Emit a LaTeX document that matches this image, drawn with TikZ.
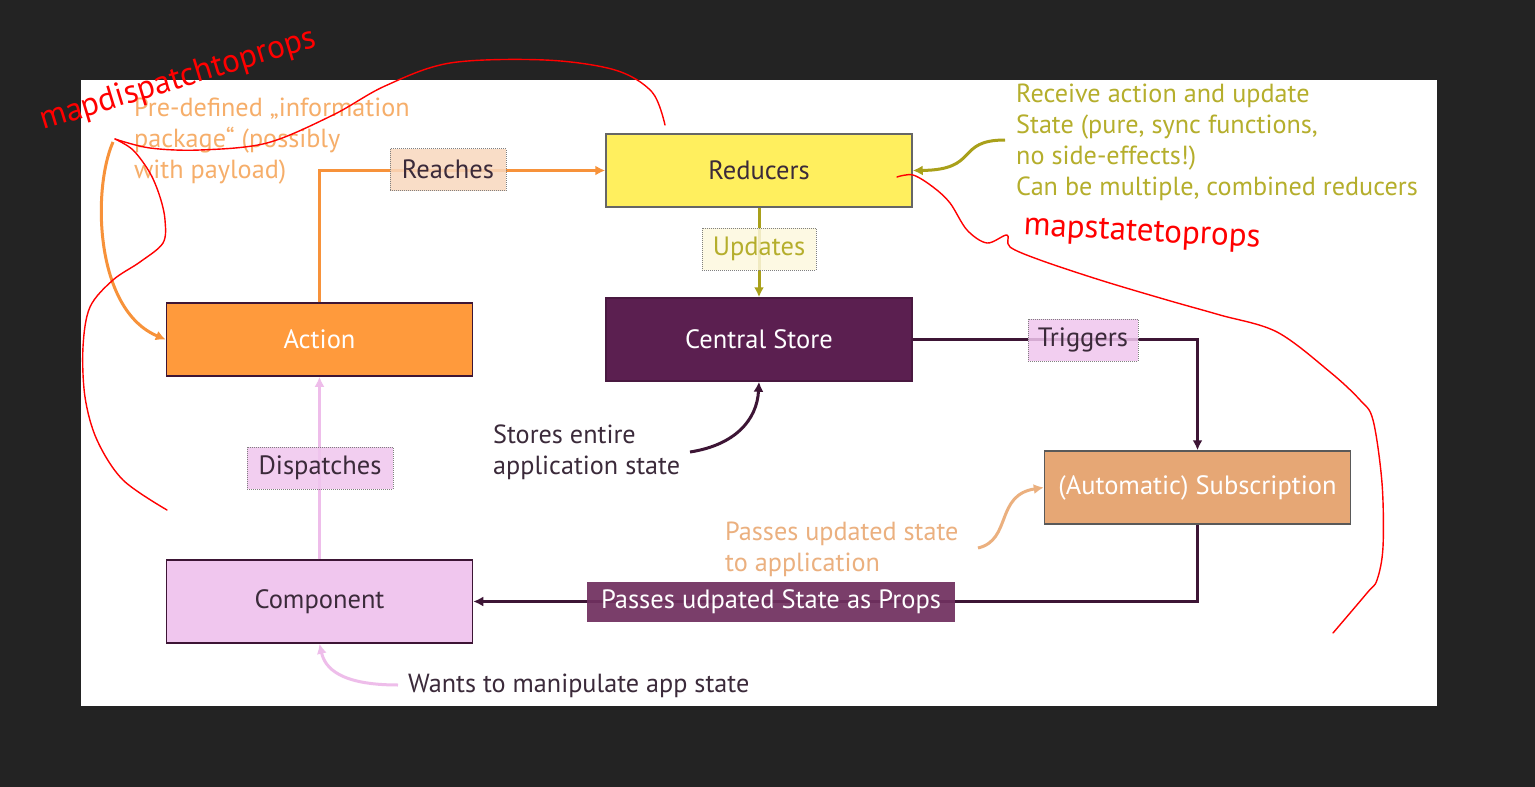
\documentclass[tikz,border=0pt]{standalone}
\usepackage{fontspec}
\setmainfont{PT Sans}
\usetikzlibrary{arrows.meta}
\definecolor{bgdark}{HTML}{232323}
\definecolor{cOrange}{HTML}{FF9A3C}
\definecolor{cOrangeLine}{HTML}{F7923A}
\definecolor{cOrangeText}{HTML}{F6AE6A}
\definecolor{cYellow}{HTML}{FFEF5E}
\definecolor{cPurple}{HTML}{5B1F50}
\definecolor{cPurpleLine}{HTML}{3D1535}
\definecolor{cPink}{HTML}{F0C6EE}
\definecolor{cPinkLine}{HTML}{EEBDEA}
\definecolor{cSub}{HTML}{E6A775}
\definecolor{cPeach}{HTML}{F9D8BE}
\definecolor{cUpd}{HTML}{FDF8DF}
\definecolor{cProps}{HTML}{70305F}
\definecolor{cOlive}{HTML}{B5AE2C}
\definecolor{cOliveLine}{HTML}{A9A01A}
\definecolor{cTan}{HTML}{EBB07F}
\definecolor{cDark}{HTML}{3B2A3A}
\definecolor{cPen}{HTML}{FF0000}
\tikzset{
  box/.style={draw, line width=1.5pt, minimum width=306pt, minimum height=73pt, inner sep=0pt, font=\fontsize{26.5}{31}\selectfont},
  lab/.style={draw=gray, densely dotted, line width=1pt, minimum height=42pt, inner sep=0pt, fill opacity=0.85, text opacity=1, font=\fontsize{26.5}{31}\selectfont},
  note/.style={anchor=west, align=left, inner sep=0pt, font=\fontsize{26.2}{31}\selectfont},
  conn/.style={line width=3pt, -{Latex[length=10pt,width=10pt]}},
  pen/.style={cPen, line width=1.4pt, line cap=round, line join=round},
  pentext/.style={cPen, inner sep=0pt, font=\fontsize{33}{33}\selectfont}
}
\begin{document}
\begin{tikzpicture}[x=1pt,y=-1pt]
\useasboundingbox (0,0) rectangle (1535,787);
\fill[bgdark] (0,0) rectangle (1535,787);
\fill[white] (81,80) rectangle (1437,706);

% boxes
\node[box, fill=cYellow, draw=gray!80!black, text=cDark] (red) at (759,170.5) {Reducers};
\node[box, fill=cPurple, draw=cPurple!80!black, text=white, minimum height=83pt] (cs) at (759,339.5) {Central Store};
\node[box, fill=cOrange, draw=cPurpleLine, text=white] (act) at (319.5,339.5) {Action};
\node[box, fill=cPink, draw=cPurpleLine, text=cDark, minimum height=83pt] (comp) at (319.5,601.5) {Component};
\node[box, fill=cSub, draw=gray!70!black, text=white] (sub) at (1197.5,487.5) {(Automatic) Subscription};

% connectors
\draw[conn, cOrangeLine] (act.north) |- (red.west);
\draw[conn, cOliveLine] (red.south) -- (cs.north);
\draw[conn, cPurpleLine] (cs.east) -| (sub.north);
\draw[conn, cPurpleLine] (sub.south) |- (comp.east);
\draw[conn, cPinkLine] (comp.north) -- (act.south);

% labels
\node[lab, fill=cPeach, text=cDark, minimum width=116pt] (reach) at (448,169.5) {Reaches};
\node[lab, fill=cUpd, text=cOlive, minimum width=114pt] (upd) at (759,249) {Updates};
\node[lab, fill=cPink, text=cDark, minimum width=110pt] (trig) at (1083,340) {Triggers};
\node[lab, fill=cPink, text=cDark, minimum width=146pt] (disp) at (320,468) {Dispatches};
\node[lab, draw=none, fill=cProps, fill opacity=0.93, text=white, minimum width=368pt, minimum height=40pt] (props) at (771,602) {Passes udpated State as Props};

% notes
\node[note, text=cOrangeText] (pre) at (134,141) {Pre-defined „information\\package“ (possibly\\with payload)};
\node[note, text=cOlive] (recv) at (1016,142) {Receive action and update\\State (pure, sync functions,\\no side-effects!)\\Can be multiple, combined reducers};
\node[note, text=cDark] (stores) at (493,452) {Stores entire\\application state};
\node[note, text=cTan] (pass) at (725,549) {Passes updated state\\to application};
\node[note, text=cDark] (wants) at (408,686) {Wants to manipulate app state};

% annotation arrows
\coordinate (preA) at (113,142);
\coordinate (recvA) at (1005,140);
\coordinate (storesA) at (690,452);
\coordinate (passA) at (978,548);
\coordinate (wantsA) at (398,685);
\draw[conn, cOrangeLine] (preA) .. controls (92,190) and (95,310) .. (act.west);
\draw[conn, cOliveLine] (recvA) .. controls (955,140) and (980,170) .. (red.east);
\draw[conn, cPurpleLine] (storesA) .. controls (735,445) and (757,420) .. (cs.south);
\draw[conn, cTan] (passA) .. controls (1012,540) and (995,495) .. (sub.west);
\draw[conn, cPinkLine] (wantsA) .. controls (340,685) and (325,668) .. (comp.south);

% red pen annotations
\draw[pen] plot[smooth, tension=0.55] coordinates {(665,125) (652,92) (615,70) (545,60) (450,63) (385,86) (333,115) (267,143) (200,150) (150,148) (115,139)};
\draw[pen] plot[smooth, tension=0.55] coordinates {(115,139) (133,150) (150,173) (160,197) (165,220) (163,243) (140,262) (113,280) (90,307) (83,347) (85,397) (97,440) (123,480) (167,510)};
\draw[pen] plot[smooth, tension=0.55] coordinates {(897,177) (913,175) (933,187) (950,203) (967,230) (987,243) (1007,235) (1010,247) (1040,260) (1100,280) (1167,300) (1220,315) (1277,332) (1330,372) (1360,400) (1373,420) (1382,483) (1383,547) (1377,580) (1367,593) (1333,633)};
\node[pentext, rotate=17] (mdtp) at (178,80) {mapdispatchtoprops};
\node[pentext, rotate=-3] (mstp) at (1142,234) {mapstatetoprops};
\end{tikzpicture}
\end{document}
